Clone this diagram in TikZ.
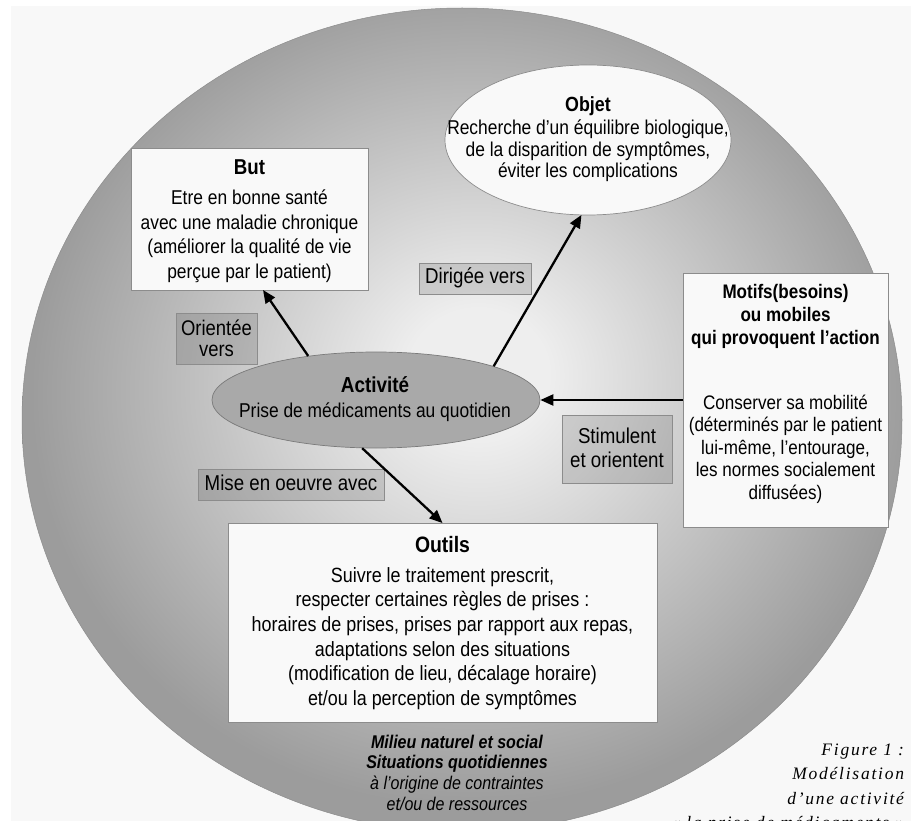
\documentclass[tikz,border=0pt]{standalone}
\usepackage{fontspec}
\setmainfont{Liberation Sans}[FakeStretch=0.87]
\newfontfamily\capfont{Liberation Serif}[LetterSpace=10]
\usetikzlibrary{shapes.geometric,arrows.meta,calc}
\definecolor{panel}{HTML}{F8F8F8}
\definecolor{boxfill}{HTML}{F9F9F9}
\definecolor{boxline}{HTML}{8C8C8C}
\definecolor{actfill}{HTML}{A9A9A9}
\definecolor{actline}{HTML}{7A7A7A}
\definecolor{shin}{HTML}{EEEEEE}
\definecolor{shout}{HTML}{9C9C9C}
\pgfdeclareradialshading{bigsh}{\pgfpoint{1bp}{3bp}}{color(0bp)=(shin); color(4bp)=(shin); color(25bp)=(shout); color(50bp)=(shout)}
\newcommand{\tb}[1]{\begin{tabular}[t]{@{}c@{}}#1\end{tabular}}
\newcommand{\tbr}[1]{\begin{tabular}[t]{@{}r@{}}#1\end{tabular}}
\newcommand{\ttl}[2]{{\fontsize{#1}{20}\selectfont\textbf{#2}}}
\tikzset{
  boxS/.style={draw=boxline, fill=boxfill, line width=0.7pt, inner sep=0pt, outer sep=0pt},
  lblS/.style={draw=boxline, fill=black, fill opacity=0.12, text opacity=1, line width=0.7pt, inner sep=0pt, outer sep=0pt},
  txtS/.style={anchor=base, inner sep=0pt, outer sep=0pt},
  arr/.style={-{Triangle[length=13pt,width=11pt]}, line width=2.3pt, black}
}
\begin{document}
\begin{tikzpicture}[x=1pt,y=-1pt]
\useasboundingbox (0,0) rectangle (911,821);
\fill[white] (0,0) rectangle (911,821);
\fill[panel] (11,6) rectangle (911,821);
\shadedraw[shading=bigsh, draw=boxline, line width=0.5pt] (462,420) ellipse [x radius=440pt, y radius=412pt];

% Objet
\node[ellipse, boxS, minimum width=286pt, minimum height=150pt] (obj) at (588,140) {};
\node[txtS, font=\fontsize{20}{21.5}\selectfont] (objtxt) at (588,112)
  {\tb{\ttl{20.5}{Objet}\\[1.5pt]Recherche d’un équilibre biologique,\\de la disparition de symptômes,\\éviter les complications}};

% But
\node[boxS, minimum width=237pt, minimum height=142pt] (but) at (249.5,219) {};
\node[txtS, font=\fontsize{20}{24.5}\selectfont] (buttxt) at (249.5,175)
  {\tb{\ttl{21.5}{But}\\[5.5pt]Etre en bonne santé\\avec une maladie chronique\\(améliorer la qualité de vie\\perçue par le patient)}};

% Activite
\node[ellipse, draw=actline, fill=actfill, line width=0.7pt, minimum width=328pt, minimum height=96pt, inner sep=0pt] (act) at (376,400) {};
\node[txtS, font=\fontsize{20}{25}\selectfont] (acttxt) at (375,392)
  {\tb{\ttl{21.7}{Activité}\\Prise de médicaments au quotidien}};

% Motifs
\node[boxS, minimum width=205pt, minimum height=254pt] (mot) at (785.5,400) {};
\node[txtS, font=\fontsize{19.6}{22.5}\selectfont] (mottxt) at (785.5,299)
  {\tb{\textbf{Motifs(besoins)}\\[0.5pt]\textbf{ou mobiles}\\[0.5pt]\textbf{qui provoquent l’action}\\[42pt]Conserver sa mobilité\\(déterminés par le patient\\lui-même, l’entourage,\\les normes socialement\\diffusées)}};

% Outils
\node[boxS, minimum width=429pt, minimum height=199pt] (out) at (442.5,622.5) {};
\node[txtS, font=\fontsize{20.6}{24.7}\selectfont] (outtxt) at (442.5,552)
  {\tb{\ttl{22.3}{Outils}\\[5.3pt]Suivre le traitement prescrit,\\respecter certaines règles de prises :\\horaires de prises, prises par rapport aux repas,\\adaptations selon des situations\\(modification de lieu, décalage horaire)\\et/ou la perception de symptômes}};

% label boxes
\node[lblS, minimum width=81pt, minimum height=51pt] (lori) at (216.5,338.5) {};
\node[txtS, font=\fontsize{21.2}{21}\selectfont] (loritxt) at (216.5,335) {\tb{Orientée\\vers}};
\node[lblS, minimum width=112pt, minimum height=31pt] (ldir) at (475,278.5) {};
\node[txtS, font=\fontsize{21.5}{24}\selectfont] (ldirtxt) at (475,284) {Dirigée vers};
\node[lblS, minimum width=110pt, minimum height=68pt] (lsti) at (617,449) {};
\node[txtS, font=\fontsize{21.5}{24}\selectfont] (lstitxt) at (617,443) {\tb{Stimulent\\et orientent}};
\node[lblS, minimum width=186pt, minimum height=31pt] (lmis) at (291,484.5) {};
\node[txtS, font=\fontsize{21.5}{24}\selectfont] (lmistxt) at (291,490) {Mise en oeuvre avec};

% arrows
\draw[arr] (act.147.7) -- ([xshift=13.5pt]but.south);
\draw[arr] (act.16.6) -- (obj.265.1);
\draw[arr] (act.254.7) -- (out.north);
\draw[arr] (act.east -| mot.west) -- (act.east);

% bottom text
\node[txtS, font=\fontsize{18.4}{20.7}\selectfont] (milieu) at (457,748)
  {\tb{\textbf{\textit{Milieu naturel et social}}\\\textbf{\textit{Situations quotidiennes}}\\\textit{à l’origine de contraintes}\\\textit{et/ou de ressources}}};

% caption
\node[txtS, anchor=base east, font=\capfont\itshape\fontsize{17.5}{24.5}\selectfont] (cap) at (904,755)
  {\tbr{Figure 1 :\\Modélisation\\d’une activité\hspace{15pt}\\« la prise de médicaments »}};
\end{tikzpicture}
\end{document}
